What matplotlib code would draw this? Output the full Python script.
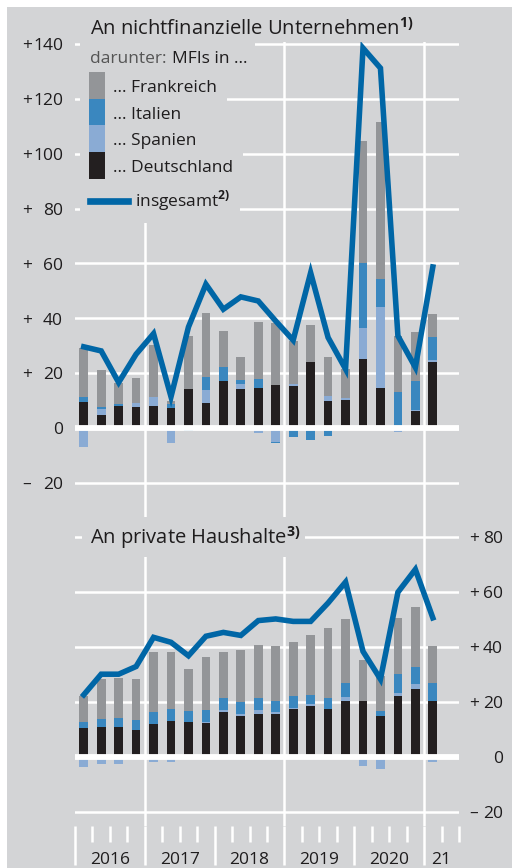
import numpy as np
import matplotlib.pyplot as plt
from matplotlib.patches import Rectangle
from matplotlib.lines import Line2D
from matplotlib import transforms

plt.rcParams['font.family'] = ['Open Sans', 'DejaVu Sans']
plt.rcParams['font.weight'] = 'medium'
plt.rcParams['mathtext.fontset'] = 'custom'
plt.rcParams['mathtext.rm'] = 'Open Sans'
plt.rcParams['mathtext.bf'] = 'Open Sans:bold'

# quarters 2016 Q1 .. 2021 Q1
quarters = [f"{y} Q{q}" for y in range(2016, 2021) for q in range(1, 5)] + ["2021 Q1"]
year_labels = ["2016", "2017", "2018", "2019", "2020", "21"]

# An nichtfinanzielle Unternehmen, darunter MFIs in ...
nfc_de = [9.6, 4.8, 8.2, 7.6, 7.9, 7.2, 14.4, 9.2, 17.3, 14.4, 14.5, 15.6, 15.2, 24.1,
          9.8, 10.3, 25.3, 14.5, 0.0, 6.2, 24.1]
nfc_es = [-7.0, 2.3, -0.7, 1.6, 3.5, -5.6, 0.0, 4.7, -0.5, 1.5, -2.0, -5.0, 0.8, 0.0,
          1.9, 0.7, 11.3, 29.6, -1.6, 0.4, 0.7]
nfc_it = [1.8, 0.7, 0.6, 0.0, 0.0, 1.4, -1.1, 4.8, 5.1, 1.7, 3.5, -0.5, -3.4, -4.4,
          -3.0, 0.0, 23.6, 10.1, 13.0, 10.7, 8.4]
nfc_fr = [17.6, 13.2, 7.5, 9.2, 18.9, 1.3, 19.0, 23.2, 13.0, 8.4, 20.6, 22.8, 15.8, 13.5,
          14.2, 10.5, 44.4, 57.3, 20.6, 17.6, 8.5]
nfc_total = [29.6, 28.1, 16.6, 26.9, 34.4, 11.4, 36.8, 52.4, 43.3, 47.8, 46.3, 39.0, 32.0,
             56.6, 33.0, 21.5, 138.5, 131.2, 33.6, 22.1, 58.7]

# An private Haushalte
hh_de = [10.3, 10.7, 10.9, 9.8, 12.0, 13.0, 12.5, 12.4, 16.2, 14.8, 15.4, 15.7, 17.3, 18.5,
         17.4, 20.1, 20.4, 14.8, 22.2, 24.7, 20.1]
hh_es = [-3.6, -2.7, -2.7, 0.0, -1.8, -2.0, 0.0, 0.4, 0.9, 0.7, 1.6, 0.5, 0.5, 0.5,
         0.0, 1.6, -3.3, -4.5, 0.9, 1.6, -1.8]
hh_it = [2.4, 3.0, 3.3, 3.5, 4.3, 4.5, 4.3, 4.3, 4.1, 4.4, 4.5, 4.1, 4.4, 3.3,
         4.0, 5.1, 0.0, 1.9, 6.9, 6.4, 6.6]
hh_fr = [9.5, 14.5, 14.3, 15.1, 21.6, 20.5, 15.2, 19.1, 16.8, 19.0, 19.2, 19.8, 19.5, 22.1,
         25.5, 23.2, 14.7, 12.5, 20.5, 21.9, 13.7]
hh_total = [22.5, 30.0, 30.0, 32.8, 43.4, 41.6, 36.7, 43.8, 45.2, 44.1, 49.5, 50.1, 49.2,
            49.2, 55.9, 63.5, 38.3, 28.2, 59.8, 68.1, 50.5]

top_ticks = [140, 120, 100, 80, 60, 40, 20, 0, -20]
bot_ticks = [80, 60, 40, 20, 0, -20]

BG = '#d3d4d6'
C_FR = '#939598'
C_IT = '#3a87bf'
C_ES = '#8aabd4'
C_DE = '#231f20'
C_LINE = '#0066a6'
TXT = '#1e1c1d'
W, H = 512, 868


def fx(x):
    return x / W


def fy(y):
    return 1 - y / H


def prect(fig, x0, y0, x1, y1, color, z=1):
    fig.add_artist(Rectangle((fx(x0), fy(y1)), (x1 - x0) / W, (y1 - y0) / H,
                             transform=fig.transFigure, facecolor=color,
                             edgecolor='none', zorder=z))


def stacked(ax, parts, colors):
    x = np.arange(len(parts[0])) + 0.5
    pos = np.zeros(len(x))
    neg = np.zeros(len(x))
    for vals, c in zip(parts, colors):
        v = np.asarray(vals, float)
        b = np.where(v >= 0, pos, neg)
        ax.bar(x, v, 0.5, bottom=b, color=c, linewidth=0, zorder=2)
        pos += np.clip(v, 0, None)
        neg += np.clip(v, None, 0)
    return x


def decorate(ax, ticks, xs_sign, xs_num, fig):
    for v in ticks:
        ax.axhline(v, color='white', lw=4.2 if v == 0 else 1.8,
                   zorder=2.5 if v == 0 else 1)
    for xv in [4, 12, 20]:
        ax.axvline(xv, color='white', lw=1.8, zorder=1)
    tr = transforms.offset_copy(
        transforms.blended_transform_factory(ax.transAxes, ax.transData),
        fig=fig, y=-6.3, units='dots')
    for v in ticks:
        sign = '+' if v > 0 else ('–' if v < 0 else '')
        ax.text(xs_sign, v, sign, transform=tr, ha='left', va='baseline',
                fontsize=12.5, color=TXT)
        ax.text(xs_num, v, str(abs(v)), transform=tr, ha='right', va='baseline',
                fontsize=12.5, color=TXT)
    ax.set_xlim(0, 22)
    for s in ax.spines.values():
        s.set_visible(False)
    ax.set_facecolor('none')


fig = plt.figure(figsize=(W / 100, H / 100), dpi=100)
fig.add_artist(Rectangle((fx(7), 0), 1 - fx(7), fy(7), transform=fig.transFigure,
                         facecolor=BG, edgecolor='none', zorder=-10))

# top panel
ax1 = fig.add_axes([fx(75), fy(519), 384 / W, 500 / H])
ax1.set_ylim((428 - 519) / 2.743, (428 - 19) / 2.743)
x = stacked(ax1, [nfc_de, nfc_es, nfc_it, nfc_fr], [C_DE, C_ES, C_IT, C_FR])
ax1.plot(x, nfc_total, color=C_LINE, lw=4.0, zorder=3, solid_joinstyle='miter')
decorate(ax1, top_ticks, (22 - 75) / 384, (63 - 75) / 384, fig)
ax1.set_xticks([])
ax1.set_yticks([])

# bottom panel
ax2 = fig.add_axes([fx(75), fy(826), 384 / W, 307 / H])
ax2.set_ylim((756.7 - 826) / 2.75, (756.7 - 519) / 2.75)
x = stacked(ax2, [hh_de, hh_es, hh_it, hh_fr], [C_DE, C_ES, C_IT, C_FR])
ax2.plot(x, hh_total, color=C_LINE, lw=4.0, zorder=3, solid_joinstyle='miter')
decorate(ax2, bot_ticks, (469 - 75) / 384, (503 - 75) / 384, fig)
ax2.set_yticks([])
ax2.set_xticks([0, 4, 8, 12, 16, 20])
ax2.set_xticks([q for q in range(1, 23) if q % 4 != 0], minor=True)
ax2.tick_params(axis='x', which='major', length=28, width=1.8, color='white',
                labelbottom=False, direction='out')
ax2.tick_params(axis='x', which='minor', length=11.5, width=1.8, color='white',
                labelbottom=False, direction='out')
ytr = transforms.blended_transform_factory(ax2.transData, ax2.transAxes)
for i, lab in enumerate(year_labels):
    xc = i * 4 + (2 if i < 5 else 1)
    ax2.text(xc, (826 - 864) / 307, lab, transform=ytr, ha='center', va='baseline',
             fontsize=12.5, color=TXT)

# covers behind titles and legend
for box in [(82, 12, 426, 42), (80, 40, 255, 72), (80, 72, 227, 126),
            (80, 126, 243, 180), (80, 180, 240, 223), (82, 517, 305, 557)]:
    prect(fig, *box, BG, z=1)

fig.text(fx(90), fy(34.3), r"An nichtfinanzielle Unternehmen$^{\mathbf{1)}}$",
         fontsize=14.5, color=TXT, va='baseline', zorder=3)
fig.text(fx(90), fy(544), r"An private Haushalte$^{\mathbf{3)}}$",
         fontsize=14.5, color=TXT, va='baseline', zorder=3)

t = fig.text(fx(90), fy(63.3), "darunter:", fontsize=12.5, color='#555555',
             va='baseline', zorder=3, fontweight='normal')
fig.canvas.draw()
bb = t.get_window_extent()
fig.text(bb.x1 / W + fx(5), fy(63.3), "MFIs in ...", fontsize=12.5, color=TXT,
         va='baseline', zorder=3)

legend_rows = [("... Frankreich", C_FR, 72, 99, 91.7),
               ("... Italien", C_IT, 99, 125, 119),
               ("... Spanien", C_ES, 125, 152, 145),
               ("... Deutschland", C_DE, 152, 179, 171.7)]
for lab, c, y0, y1, yb in legend_rows:
    prect(fig, 89, y0, 105, y1, c, z=2)
    fig.text(fx(113), fy(yb), lab, fontsize=12.5, color=TXT, va='baseline', zorder=3)

fig.add_artist(Line2D([fx(90), fx(128)], [fy(200.5)] * 2, lw=4.8, color=C_LINE,
                      transform=fig.transFigure, zorder=2))
fig.text(fx(135), fy(206.7), r"insgesamt$^{\mathbf{2)}}$", fontsize=12.5, color=TXT,
         va='baseline', zorder=3)

fig.savefig('out.png', dpi=100, facecolor='white')
